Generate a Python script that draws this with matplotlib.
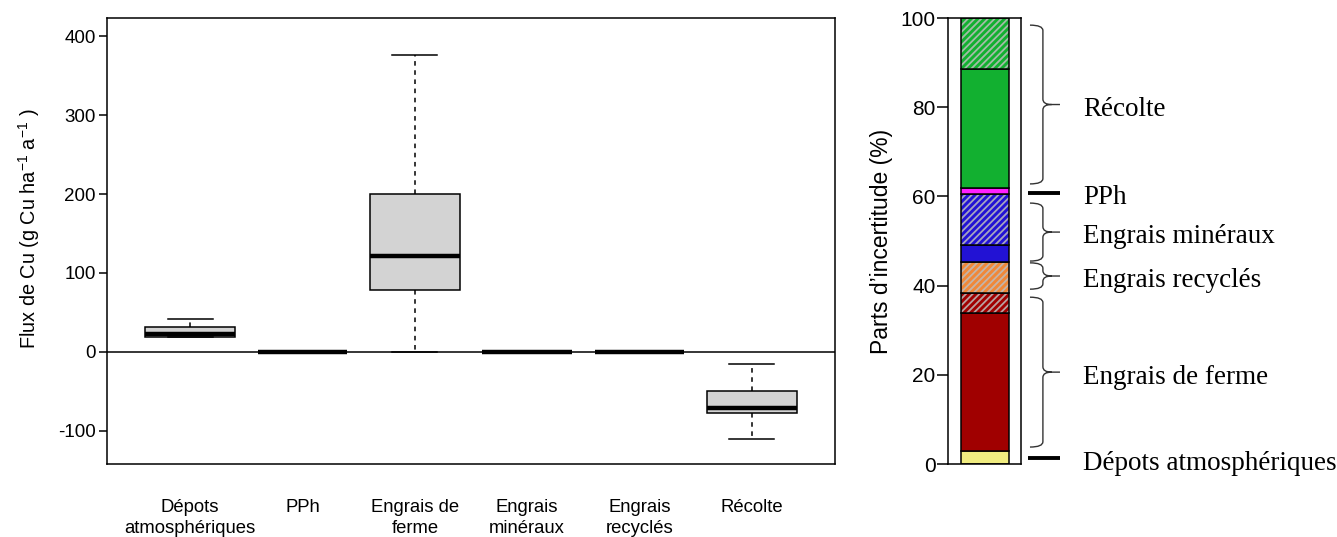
import matplotlib
matplotlib.use("Agg")
import matplotlib.pyplot as plt
from matplotlib.path import Path
from matplotlib.patches import PathPatch
import matplotlib.transforms as mtransforms

plt.rcParams['font.family'] = ['Liberation Sans', 'DejaVu Sans']
plt.rcParams['mathtext.fontset'] = 'custom'
plt.rcParams['mathtext.rm'] = 'Liberation Sans'
plt.rcParams['mathtext.it'] = 'Liberation Sans:italic'
plt.rcParams['axes.unicode_minus'] = False
plt.rcParams['hatch.linewidth'] = 1.3

# ---------------- data: left panel (boxplots) ----------------
categories = ['Dépots\natmosphériques', 'PPh', 'Engrais de\nferme',
              'Engrais\nminéraux', 'Engrais\nrecyclés', 'Récolte']
whislo = [19, 0, 0, 0, 0, -110]
q1 = [19.5, 0, 78, 0, 0, -77]
med = [23, 0, 122, 0, 0, -71]
q3 = [31.5, 0, 200, 0, 0, -49]
whishi = [42, 0, 376, 0, 0, -15]
left_yticks = [-100, 0, 100, 200, 300, 400]

# ---------------- data: right panel (stacked bar) ----------------
seg_names = ['Dépots atmosphériques', 'Engrais de ferme', 'Engrais de ferme (hachuré)',
             'Engrais recyclés (hachuré)', 'Engrais minéraux', 'Engrais minéraux (hachuré)',
             'PPh', 'Récolte', 'Récolte (hachuré)']
seg_values = [3.0, 30.8, 4.5, 7.1, 3.7, 11.4, 1.4, 26.6, 11.5]
seg_colors = ['#F0EC80', '#A00000', '#A00000', '#F08838', '#2212D4', '#2212D4',
              '#FF20FF', '#12B030', '#12B030']
seg_hatched = [False, False, True, True, False, True, False, False, True]
right_yticks = [0, 20, 40, 60, 80, 100]

# group annotations: (label, low %, high %, kind)
group_labels = ['Récolte', 'PPh', 'Engrais minéraux', 'Engrais recyclés',
                'Engrais de ferme', 'Dépots atmosphériques']
group_lo = [62.8, 60.8, 45.5, 39.2, 3.8, 1.3]
group_hi = [98.4, 60.8, 58.5, 45.1, 37.4, 1.3]
group_brace = [True, False, True, True, True, False]

W, H = 1337, 537
fig = plt.figure(figsize=(W / 100, H / 100), dpi=100)

# ---------------- left panel ----------------
axL = fig.add_axes([107 / W, 1 - 464 / H, (835 - 107) / W, (464 - 18) / H])
stats = []
for i in range(len(categories)):
    stats.append(dict(med=med[i], q1=q1[i], q3=q3[i], whislo=whislo[i],
                      whishi=whishi[i], fliers=[]))
positions = list(range(1, len(categories) + 1))
axL.bxp(stats, positions=positions, widths=0.8, patch_artist=True,
        showfliers=False,
        boxprops=dict(facecolor='#D3D3D3', edgecolor='black', linewidth=1.1),
        medianprops=dict(color='black', linewidth=3.2, solid_capstyle='butt'),
        whiskerprops=dict(color='black', linewidth=1.1, linestyle=(0, (3, 3))),
        capprops=dict(color='black', linewidth=1.1))
axL.axhline(0, color='black', linewidth=1.1, zorder=0.5)
axL.set_xlim(0.26, 6.74)
axL.set_ylim(-142, 423)
axL.set_xticks(positions)
axL.set_xticklabels(categories, fontsize=13.3, linespacing=1.3)
axL.tick_params(axis='x', length=0, pad=25)
axL.set_yticks(left_yticks)
axL.set_yticklabels([str(v) for v in left_yticks], fontsize=13.5)
axL.tick_params(axis='y', length=6, width=1.1, pad=2, direction='out')
for s in axL.spines.values():
    s.set_linewidth(1.1)
axL.set_ylabel('Flux de Cu (g Cu ha$^{-1}$ a$^{-1}$ )', fontsize=14.3)
axL.yaxis.set_label_coords(-0.089, 0.527)

# ---------------- right panel ----------------
axR = fig.add_axes([948 / W, 1 - 464 / H, (1021 - 948) / W, (464 - 18) / H])
axR.set_xlim(0, 1)
axR.set_ylim(0, 100)
bx, bw = 0.507, 0.658
bottom = 0
for v, c, h in zip(seg_values, seg_colors, seg_hatched):
    axR.bar(bx, v, bottom=bottom, width=bw, color=c, edgecolor='none', linewidth=0)
    if h:
        axR.bar(bx, v, bottom=bottom, width=bw, facecolor='none',
                edgecolor='#BDBDBD', hatch='/////', linewidth=0, alpha=0.85)
    axR.bar(bx, v, bottom=bottom, width=bw, facecolor='none',
            edgecolor='black', linewidth=1.1)
    bottom += v
axR.set_xticks([])
axR.set_yticks(right_yticks)
axR.set_yticklabels([str(v) for v in right_yticks], fontsize=15)
axR.tick_params(axis='y', length=8, width=1.1, pad=1, direction='out')
for s in axR.spines.values():
    s.set_linewidth(1.1)
axR.set_ylabel("Parts d\u2019incertitude (%)", fontsize=16.5)
axR.yaxis.set_label_coords(-0.75, 0.5)

trans = mtransforms.blended_transform_factory(axR.transAxes, axR.transData)
x_end, x_mid, x_tip = 1.123, 1.30, 1.534
r = 1.2
for lab, lo, hi, br in zip(group_labels, group_lo, group_hi, group_brace):
    ym = (lo + hi) / 2
    if br:
        verts = [(x_end, hi), (x_mid, hi), (x_mid, hi - r),
                 (x_mid, ym + r), (x_mid, ym), (x_mid + 0.12, ym),
                 (x_tip, ym),
                 (x_mid + 0.12, ym), (x_mid, ym), (x_mid, ym - r),
                 (x_mid, lo + r), (x_mid, lo), (x_end, lo)]
        codes = [Path.MOVETO, Path.CURVE3, Path.CURVE3,
                 Path.LINETO, Path.CURVE3, Path.CURVE3,
                 Path.LINETO,
                 Path.MOVETO, Path.CURVE3, Path.CURVE3,
                 Path.LINETO, Path.CURVE3, Path.CURVE3]
        p = PathPatch(Path(verts, codes), facecolor='none', edgecolor='#333333',
                      linewidth=1.0, transform=trans, clip_on=False)
        axR.add_patch(p)
    else:
        axR.plot([1.096, x_tip], [ym, ym], color='black', linewidth=2.8,
                 transform=trans, clip_on=False, solid_capstyle='butt')
    axR.text(1.85, ym - 1.1, lab, transform=trans, ha='left', va='center',
             fontsize=19.5, family=['Liberation Serif', 'DejaVu Serif'])

fig.savefig('out.png', dpi=100)
